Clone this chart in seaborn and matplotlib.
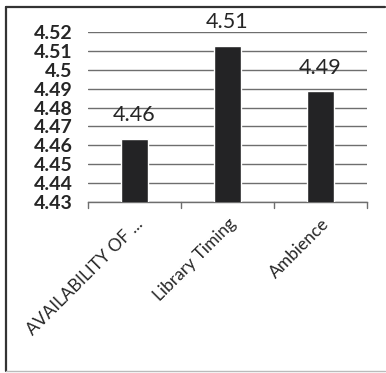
import matplotlib
matplotlib.use("Agg")
import matplotlib.pyplot as plt
import seaborn as sns
import pandas as pd
from matplotlib.lines import Line2D

categories = ["AVAILABILITY OF ...", "Library Timing", "Ambience"]
values = [4.4635, 4.5125, 4.4885]
value_labels = ["4.46", "4.51", "4.49"]
yticks = [4.43, 4.44, 4.45, 4.46, 4.47, 4.48, 4.49, 4.5, 4.51, 4.52]

sns.set_style("white")
plt.rcParams['font.family'] = ['Lato', 'DejaVu Sans']

df = pd.DataFrame({"cat": categories, "val": values})

fig = plt.figure(figsize=(3.86, 3.73), dpi=100)
ax = fig.add_axes([88/386, (373-202)/373, (367-88)/386, (202-32)/373])

sns.barplot(data=df, x="cat", y="val", color="#232325", width=0.28,
            saturation=1, ax=ax, zorder=3)

grid_c = "#6e6e6e"
ax.set_ylim(4.43, 4.52)
ax.set_xlim(-0.5, 2.5)
ax.set_yticks(yticks)
ax.set_yticklabels([f"{t:g}" for t in yticks], fontsize=14, fontweight="bold")
ax.tick_params(axis='y', length=0, pad=11)
ax.yaxis.grid(True, color=grid_c, linewidth=1.0, zorder=0)
ax.set_axisbelow(True)

for s in ["top", "right", "left"]:
    ax.spines[s].set_visible(False)
ax.spines["bottom"].set_color(grid_c)
ax.spines["bottom"].set_linewidth(1.0)

ax.set_xticks([0, 1, 2])
ax.set_xticklabels(categories, rotation=45, ha="right", rotation_mode="anchor",
                   fontsize=12.5)
ax.tick_params(axis='x', length=0, pad=10)
for b in [-0.5, 0.5, 1.5, 2.5]:
    ax.plot([b, b], [0, -0.035], transform=ax.get_xaxis_transform(),
            color=grid_c, lw=1.0, clip_on=False)

ax.set_xlabel("")
ax.set_ylabel("")

for i, (v, lab) in enumerate(zip(values, value_labels)):
    ax.annotate(lab, (i, v), xytext=(0, 10), textcoords="offset points",
                ha="center", va="bottom", fontsize=15.5, clip_on=False)

fig.add_artist(Line2D([6/386, 6/386], [1 - 7/373, 1 - 371/373], color="#333333", lw=1.6))
fig.add_artist(Line2D([6/386, 385/386], [1 - 7/373, 1 - 7/373], color="#333333", lw=1.6))
fig.add_artist(Line2D([6/386, 385/386], [1 - 371/373, 1 - 371/373], color="#bbbbbb", lw=1.0))

fig.savefig("out.png", dpi=100)
